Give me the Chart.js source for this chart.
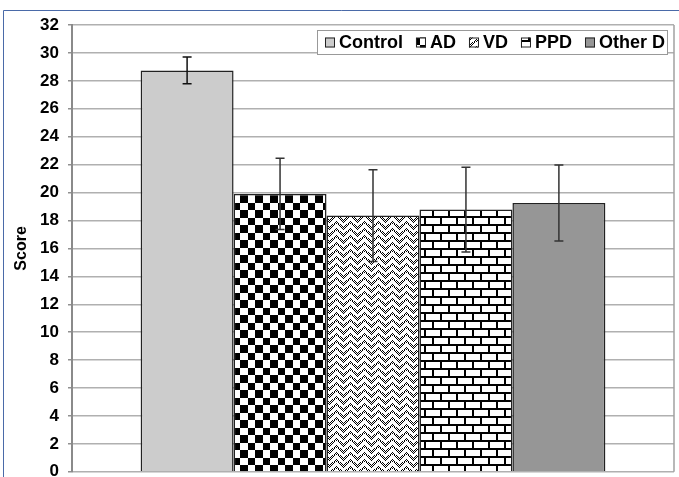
<!DOCTYPE html>
<html>
<head>
<meta charset="utf-8">
<script src="https://cdn.jsdelivr.net/npm/chart.js@4/dist/chart.umd.min.js"></script>
<style>
  html, body { margin: 0; padding: 0; background: #fff; overflow: hidden; }
  #wrap { width: 679px; height: 477px; overflow: hidden; position: relative; }
  #chart { position: absolute; left: 0; top: 0; }
</style>
</head>
<body>
<div id="wrap"><canvas id="chart" width="679" height="491"></canvas></div>
<script>
const categories = [""];
const seriesNames = ["Control", "AD", "VD", "PPD", "Other D"];
const seriesValues = [28.75, 19.9, 18.35, 18.78, 19.25];
const seriesErrors = [0.95, 2.55, 3.28, 3.03, 2.72];
const yTicks = { min: 0, max: 32, step: 2 };

// pixel tile -> canvas pattern
function makePattern(w, h, isBlack) {
  const c = document.createElement("canvas");
  c.width = w; c.height = h;
  const g = c.getContext("2d");
  const img = g.createImageData(w, h);
  for (let y = 0; y < h; y++) {
    for (let x = 0; x < w; x++) {
      const v = isBlack(x, y) ? 0 : 255;
      const i = (y * w + x) * 4;
      img.data[i] = img.data[i + 1] = img.data[i + 2] = v;
      img.data[i + 3] = 255;
    }
  }
  g.putImageData(img, 0, 0);
  return g.createPattern(c, "repeat");
}

const ctx = document.getElementById("chart").getContext("2d");

const checker = makePattern(15, 15, (x, y) => (Math.floor(x / 7.5) + Math.floor(y / 7.5)) % 2 === 0);
const weave = makePattern(14, 7, (x, y) => {
  const tri = Math.abs((x % 14) - 7);
  const band = (y + tri) % 7;
  if (band < 3) return false;           // white chevron stripe
  return (x + y) % 2 === 0;             // dithered dark
});
const brick = makePattern(16, 16, (x, y) => {
  const row = Math.floor(y / 8);
  const yy = y % 8;
  if (yy < 2) return true;
  const xx = (x + (row ? 8 : 0)) % 16;
  return xx < 2;
});

const fills = ["#cccccc", checker, weave, brick, "#969696"];

const datasets = seriesNames.map((name, i) => ({
  label: name,
  data: [seriesValues[i]],
  errors: [seriesErrors[i]],
  backgroundColor: fills[i],
  borderColor: "#222",
  borderWidth: 1.5,
  barPercentage: 1,
  categoryPercentage: 0.772
}));

const framePlugin = {
  id: "frame",
  beforeDraw(chart) {
    const c = chart.ctx;
    c.save();
    c.strokeStyle = "#4a6aa8";
    c.lineWidth = 1;
    c.beginPath();
    c.moveTo(3.5, chart.height);
    c.lineTo(3.5, 10.5);
    c.lineTo(chart.width, 10.5);
    c.stroke();
    c.restore();
  },
  afterDatasetsDraw(chart) {
    const c = chart.ctx;
    const a = chart.chartArea;
    const y = chart.scales.y;
    c.save();
    // right border of plot
    c.strokeStyle = "#a0a0a0";
    c.lineWidth = 1.5;
    c.beginPath();
    c.moveTo(a.right, a.top);
    c.lineTo(a.right, a.bottom);
    c.stroke();
    // error bars
    chart.data.datasets.forEach((ds, i) => {
      const bar = chart.getDatasetMeta(i).data[0];
      const v = ds.data[0], e = ds.errors[0];
      const yt = y.getPixelForValue(v + e);
      const yb = y.getPixelForValue(v - e);
      c.strokeStyle = i === 0 ? "#111" : "#333";
      c.lineWidth = 1.5;
      c.beginPath();
      c.moveTo(bar.x, yt); c.lineTo(bar.x, yb);
      c.moveTo(bar.x - 4.5, yt); c.lineTo(bar.x + 4.5, yt);
      c.moveTo(bar.x - 4.5, yb); c.lineTo(bar.x + 4.5, yb);
      c.stroke();
    });
    // legend box inside plot, top-right
    c.font = "bold 18px 'Liberation Sans', Arial, sans-serif";
    const icon = 10, gapIT = 4, gapItems = 13, padL = 8, padR = 3;
    const widths = chart.data.datasets.map(ds => c.measureText(ds.label).width);
    const total = padL + padR + widths.reduce((s, w) => s + icon + gapIT + w, 0) + gapItems * (widths.length - 1);
    const right = a.right - 6, top = a.top + 5, h = 25;
    const left = right - total;
    c.fillStyle = "#fff";
    c.fillRect(left, top, total, h);
    c.strokeStyle = "#999";
    c.lineWidth = 1;
    c.strokeRect(left + 0.5, top + 0.5, total - 1, h - 1);
    let x = left + padL;
    const cy = top + h / 2;
    chart.data.datasets.forEach((ds, i) => {
      c.fillStyle = ds.backgroundColor;
      c.fillRect(x, cy - icon / 2, icon, icon);
      c.strokeStyle = "#222";
      c.lineWidth = 1;
      c.strokeRect(x + 0.5, cy - icon / 2 + 0.5, icon - 1, icon - 1);
      x += icon + gapIT;
      c.fillStyle = "#000";
      c.textBaseline = "middle";
      c.textAlign = "left";
      c.fillText(ds.label, x, cy + 1);
      x += widths[i] + gapItems;
    });
    c.restore();
  }
};

new Chart(ctx, {
  type: "bar",
  data: { labels: categories, datasets: datasets },
  options: {
    responsive: false,
    animation: false,
    layout: { padding: { left: 0, right: 5, top: 25, bottom: 3 } },
    scales: {
      x: { display: false },
      y: {
        min: yTicks.min,
        max: yTicks.max,
        afterFit: (s) => { s.width = 72; },
        ticks: {
          stepSize: yTicks.step,
          color: "#000",
          padding: 9,
          font: { family: "'Liberation Sans', Arial, sans-serif", size: 17, weight: "bold" }
        },
        grid: { color: "#b0b0b0", lineWidth: 1.5, tickLength: 4, tickColor: "#909090" },
        border: { color: "#8a8a8a", width: 2 },
        title: {
          display: true,
          text: "Score",
          color: "#000",
          padding: { top: 12, bottom: 0 },
          font: { family: "'Liberation Sans', Arial, sans-serif", size: 16, weight: "bold" }
        }
      }
    },
    plugins: {
      legend: { display: false },
      tooltip: { enabled: false }
    }
  },
  plugins: [framePlugin]
});
</script>
</body>
</html>
